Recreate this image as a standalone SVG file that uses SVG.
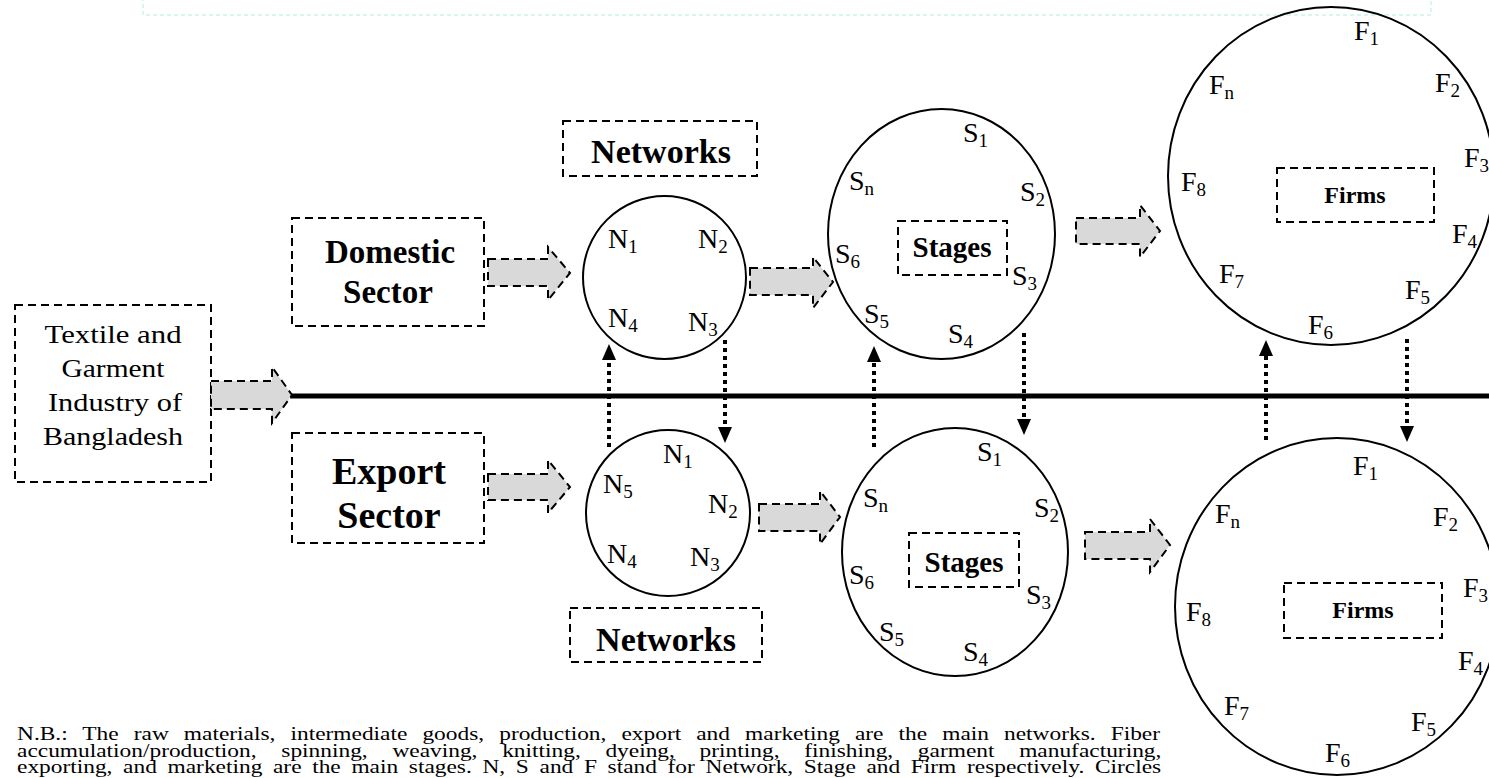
<svg xmlns="http://www.w3.org/2000/svg" width="1489" height="778" viewBox="0 0 1489 778">
<style>
.dbox{fill:none;stroke:#000;stroke-width:2;stroke-dasharray:8 5}
.circ{fill:none;stroke:#000;stroke-width:2}
.blk{fill:#d9d9d9;stroke:#000;stroke-width:2;stroke-dasharray:8 5}
.dot{fill:none;stroke:#000;stroke-width:4;stroke-dasharray:4 4}
.t{font-family:"Liberation Serif","Times New Roman",serif;fill:#000}
.lab{font-size:28px}
.sub{font-size:19px}
.b{font-weight:bold}
.nb{font-size:18px}
</style>
<defs>
<marker id="ah" markerUnits="userSpaceOnUse" markerWidth="16" markerHeight="16" refX="8" refY="8" orient="auto">
<path d="M0,1 L16,8 L0,15 Z" fill="#000"/>
</marker>
</defs>
<rect x="143" y="-6" width="1288" height="21" fill="none" stroke="#d8f7e6" stroke-width="2" stroke-dasharray="4 3"/>
<line x1="290" y1="396" x2="1489" y2="396" stroke="#000" stroke-width="5"/>

<g id="textile">
<rect class="dbox" x="15" y="305" width="196" height="177"/>
<text class="t" font-size="26" text-anchor="middle"><tspan x="113" y="343" textLength="137" lengthAdjust="spacingAndGlyphs">Textile and</tspan></text>
<text class="t" font-size="26" text-anchor="middle"><tspan x="113" y="377" textLength="103" lengthAdjust="spacingAndGlyphs">Garment</tspan></text>
<text class="t" font-size="26" text-anchor="middle"><tspan x="115" y="411" textLength="134" lengthAdjust="spacingAndGlyphs">Industry of</tspan></text>
<text class="t" font-size="26" text-anchor="middle"><tspan x="113" y="445" textLength="140" lengthAdjust="spacingAndGlyphs">Bangladesh</tspan></text>
</g>
<g id="domestic">
<rect class="dbox" x="292" y="218" width="192" height="108"/>
<text class="t b" font-size="33" text-anchor="middle"><tspan x="390" y="263">Domestic</tspan><tspan x="388" y="303">Sector</tspan></text>
</g>
<g id="export">
<rect class="dbox" x="292" y="433" width="192" height="110"/>
<text class="t b" font-size="38" text-anchor="middle"><tspan x="389" y="484">Export</tspan><tspan x="389" y="528">Sector</tspan></text>
</g>
<g id="networks-top">
<rect class="dbox" x="563" y="121" width="194" height="55"/>
<text class="t b" font-size="34" text-anchor="middle" x="661" y="163">Networks</text>
</g>
<g id="networks-bottom">
<rect class="dbox" x="570" y="608" width="192" height="54"/>
<text class="t b" font-size="34" text-anchor="middle" x="666" y="651">Networks</text>
</g>

<g id="n-domestic">
<ellipse class="circ" cx="664.5" cy="277.5" rx="81.5" ry="81.5"/>
<text class="t lab" x="608" y="248">N<tspan class="sub" dy="5">1</tspan></text>
<text class="t lab" x="698" y="248">N<tspan class="sub" dy="5">2</tspan></text>
<text class="t lab" x="608" y="327">N<tspan class="sub" dy="5">4</tspan></text>
<text class="t lab" x="688" y="331">N<tspan class="sub" dy="5">3</tspan></text>
</g>
<g id="n-export">
<ellipse class="circ" cx="668" cy="513" rx="82" ry="83"/>
<text class="t lab" x="663" y="463">N<tspan class="sub" dy="5">1</tspan></text>
<text class="t lab" x="603" y="493">N<tspan class="sub" dy="5">5</tspan></text>
<text class="t lab" x="708" y="513">N<tspan class="sub" dy="5">2</tspan></text>
<text class="t lab" x="607" y="563">N<tspan class="sub" dy="5">4</tspan></text>
<text class="t lab" x="690" y="566">N<tspan class="sub" dy="5">3</tspan></text>
</g>

<g id="s-domestic">
<ellipse class="circ" cx="941.5" cy="234" rx="113.5" ry="125"/>
<rect class="dbox" x="898" y="221" width="109" height="54"/>
<text class="t b" font-size="29" text-anchor="middle" x="952" y="257">Stages</text>
<text class="t lab" x="963" y="142">S<tspan class="sub" dy="5">1</tspan></text>
<text class="t lab" x="849" y="190">S<tspan class="sub" dy="5">n</tspan></text>
<text class="t lab" x="1020" y="201">S<tspan class="sub" dy="5">2</tspan></text>
<text class="t lab" x="835" y="263">S<tspan class="sub" dy="5">6</tspan></text>
<text class="t lab" x="1012" y="285">S<tspan class="sub" dy="5">3</tspan></text>
<text class="t lab" x="864" y="323">S<tspan class="sub" dy="5">5</tspan></text>
<text class="t lab" x="948" y="343">S<tspan class="sub" dy="5">4</tspan></text>
</g>
<g id="s-export">
<ellipse class="circ" cx="955" cy="552" rx="113" ry="124"/>
<rect class="dbox" x="909" y="533" width="110" height="54"/>
<text class="t b" font-size="29" text-anchor="middle" x="964" y="572">Stages</text>
<text class="t lab" x="977" y="461">S<tspan class="sub" dy="5">1</tspan></text>
<text class="t lab" x="863" y="507">S<tspan class="sub" dy="5">n</tspan></text>
<text class="t lab" x="1034" y="517">S<tspan class="sub" dy="5">2</tspan></text>
<text class="t lab" x="849" y="584">S<tspan class="sub" dy="5">6</tspan></text>
<text class="t lab" x="1026" y="604">S<tspan class="sub" dy="5">3</tspan></text>
<text class="t lab" x="879" y="641">S<tspan class="sub" dy="5">5</tspan></text>
<text class="t lab" x="963" y="661">S<tspan class="sub" dy="5">4</tspan></text>
</g>

<g id="f-domestic">
<ellipse class="circ" cx="1331" cy="176" rx="163" ry="169"/>
<rect class="dbox" x="1277" y="168" width="157" height="54"/>
<text class="t b" font-size="24" text-anchor="middle" x="1355" y="203">Firms</text>
<text class="t lab" x="1354" y="40">F<tspan class="sub" dy="5">1</tspan></text>
<text class="t lab" x="1209" y="94">F<tspan class="sub" dy="5">n</tspan></text>
<text class="t lab" x="1435" y="92">F<tspan class="sub" dy="5">2</tspan></text>
<text class="t lab" x="1464" y="167">F<tspan class="sub" dy="5">3</tspan></text>
<text class="t lab" x="1181" y="191">F<tspan class="sub" dy="5">8</tspan></text>
<text class="t lab" x="1452" y="243">F<tspan class="sub" dy="5">4</tspan></text>
<text class="t lab" x="1219" y="283">F<tspan class="sub" dy="5">7</tspan></text>
<text class="t lab" x="1405" y="299">F<tspan class="sub" dy="5">5</tspan></text>
<text class="t lab" x="1308" y="334">F<tspan class="sub" dy="5">6</tspan></text>
</g>
<g id="f-export">
<ellipse class="circ" cx="1337" cy="606.5" rx="162" ry="168.5"/>
<rect class="dbox" x="1284" y="583" width="158" height="55"/>
<text class="t b" font-size="24" text-anchor="middle" x="1363" y="618">Firms</text>
<text class="t lab" x="1353" y="475">F<tspan class="sub" dy="5">1</tspan></text>
<text class="t lab" x="1215" y="523">F<tspan class="sub" dy="5">n</tspan></text>
<text class="t lab" x="1433" y="526">F<tspan class="sub" dy="5">2</tspan></text>
<text class="t lab" x="1463" y="597">F<tspan class="sub" dy="5">3</tspan></text>
<text class="t lab" x="1186" y="621">F<tspan class="sub" dy="5">8</tspan></text>
<text class="t lab" x="1458" y="670">F<tspan class="sub" dy="5">4</tspan></text>
<text class="t lab" x="1224" y="715">F<tspan class="sub" dy="5">7</tspan></text>
<text class="t lab" x="1411" y="731">F<tspan class="sub" dy="5">5</tspan></text>
<text class="t lab" x="1325" y="762">F<tspan class="sub" dy="5">6</tspan></text>
</g>

<g id="connectors">
<polygon class="blk" points="211,381 272,381 272,367 292,395 272,423 272,409 211,409"/>
<polygon class="blk" points="488,259 548,259 548,247 570,273 548,300 548,286 488,286"/>
<polygon class="blk" points="488,474 548,474 548,460 570,487 548,513 548,500 488,500"/>
<polygon class="blk" points="750,268 813,268 813,257 833,282 813,308 813,295 750,295"/>
<polygon class="blk" points="759,504 820,504 820,491 840,517 820,544 820,531 759,531"/>
<polygon class="blk" points="1076,218 1140,218 1140,205 1160,231 1140,257 1140,244 1076,244"/>
<polygon class="blk" points="1085,532 1150,532 1150,519 1170,545 1150,572 1150,559 1085,559"/>
<line class="dot" x1="609" y1="447" x2="609" y2="352" marker-end="url(#ah)"/>
<line class="dot" x1="725" y1="340" x2="725" y2="435" marker-end="url(#ah)"/>
<line class="dot" x1="874" y1="447" x2="874" y2="354" marker-end="url(#ah)"/>
<line class="dot" x1="1024" y1="333" x2="1024" y2="427" marker-end="url(#ah)"/>
<line class="dot" x1="1266" y1="440" x2="1266" y2="348" marker-end="url(#ah)"/>
<line class="dot" x1="1407" y1="339" x2="1407" y2="434" marker-end="url(#ah)"/>
</g>

<g id="note" transform="translate(17,0) scale(1.3,1)">
<text class="t nb" x="0" y="740" word-spacing="7.1">N.B.: The raw materials, intermediate goods, production, export and marketing are the main networks. Fiber</text>
<text class="t nb" x="0" y="757" word-spacing="14.5">accumulation/production, spinning, weaving, knitting, dyeing, printing, finishing, garment manufacturing,</text>
<text class="t nb" x="0" y="773" word-spacing="3.7">exporting, and marketing are the main stages. N, S and F stand for Network, Stage and Firm respectively. Circles</text>
</g>
</svg>
